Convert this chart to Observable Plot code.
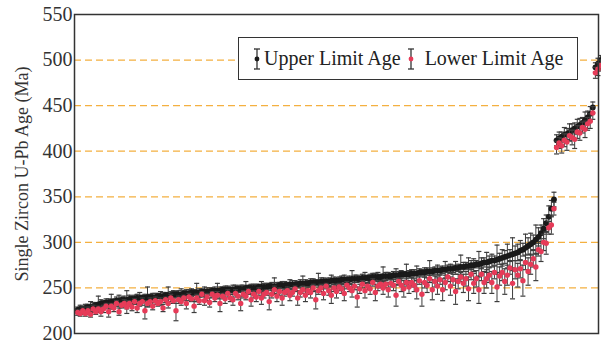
<!DOCTYPE html>
<html>
<head>
<meta charset="utf-8">
<script src="https://cdn.jsdelivr.net/npm/d3@7"></script>
<script src="https://cdn.jsdelivr.net/npm/@observablehq/plot@0.6"></script>
<style>
  html, body { margin: 0; padding: 0; background: #fff; }
  #wrap { position: relative; width: 601px; height: 345px; font-family: "Liberation Serif", "DejaVu Serif", serif; }
  #legend { position: absolute; left: 238px; top: 37px; width: 338px; height: 41px; border: 1.5px solid #333; background: #fff;
    display: flex; align-items: center; font-size: 20px; color: #222; white-space: nowrap; }
  #legend svg { display: block; }
  .lg-item { display: flex; align-items: center; }
</style>
</head>
<body>
<div id="wrap">
  <div id="chart"></div>
  <div id="legend"></div>
</div>
<script>
// Upper limit ages (black), sorted sample order
const upperAge = [
226,227,227,228,229,229,230,231,232,233,
233,234,234,235,235,236,236,237,237,237,
238,238,238,239,239,239,239,240,240,240,
240,241,241,241,242,242,242,243,243,243,
243,244,244,244,245,245,245,245,246,246,
246,246,247,247,247,247,248,248,248,248,
248,249,249,249,249,250,250,250,250,250,
251,251,251,251,252,252,252,252,253,253,
253,253,254,254,254,254,255,255,255,255,
256,256,256,256,257,257,257,257,258,258,
258,258,259,259,259,259,260,260,260,260,
261,261,261,261,262,262,262,262,263,263,
263,263,264,264,264,265,265,265,265,266,
266,266,267,267,267,268,268,268,269,269,
269,270,270,271,271,271,272,272,273,273,
274,274,275,275,276,276,277,278,278,279,
280,280,281,282,283,284,285,286,287,288,
289,291,292,294,296,298,300,303,306,310,
315,321,328,337,347,
412,414,416,418,419,421,423,425,427,429,431,434,437,441,448,
492,496,500
];
const upperErr = [
3,4,3,4,3,6,4,3,9,4,
3,4,4,8,3,4,6,3,4,10,
4,3,4,4,6,3,4,11,3,4,
4,3,5,4,3,9,4,4,3,4,
6,3,4,4,4,3,10,4,3,5,
4,4,3,4,8,4,3,4,4,3,
5,4,3,4,4,7,3,4,4,4,
3,6,4,4,3,4,9,4,3,4,
4,3,5,4,4,3,4,8,4,3,
4,4,3,10,4,4,3,4,6,4,
3,4,4,5,3,4,9,4,4,3,
4,6,3,4,4,4,5,3,10,4,
4,3,4,7,4,4,3,11,4,4,
4,8,4,3,5,4,12,4,4,6,
4,4,9,4,5,4,7,4,13,5,
4,9,5,7,4,14,6,5,11,6,
7,5,16,6,9,7,13,6,18,8,
9,11,7,15,9,12,8,16,10,9,
11,9,12,9,8,
6,7,5,8,6,9,7,6,8,7,6,9,7,8,6,
5,6,5
];
// Lower limit ages (red), same sample order
const lowerAge = [
223,222,225,222,225,221,227,224,227,224,
227,230,224,230,228,233,224,231,233,229,
233,229,235,228,233,235,225,233,235,230,
236,233,235,228,237,233,239,236,225,237,
235,239,233,240,238,230,239,236,243,236,
240,234,243,239,242,233,241,238,244,239,
237,244,241,233,243,241,246,237,243,240,
246,239,243,245,235,243,248,241,246,239,
245,247,242,245,249,239,245,248,242,247,
245,250,237,247,250,244,252,247,242,250,
246,251,249,244,253,250,247,252,240,249,
254,247,252,249,256,245,252,254,250,254,
248,255,253,242,257,253,249,256,251,256,
253,248,258,243,256,253,260,248,257,252,
259,248,256,262,252,259,246,257,262,255,
260,249,265,255,260,248,265,256,260,264,
256,267,251,263,267,257,264,272,255,270,
264,271,258,278,268,276,282,273,292,290,
300,299,316,319,337,
404,409,406,412,410,417,415,413,421,420,426,424,430,433,442,
486,490,494
];
const lowerErr = [
3,3,4,3,4,3,4,3,3,5,
4,3,6,3,4,3,4,3,4,7,
3,4,3,5,3,4,9,3,4,4,
4,3,4,4,3,5,4,3,11,4,
4,3,6,4,3,7,4,4,3,5,
4,5,3,4,4,9,3,5,4,4,
6,4,4,8,4,4,3,7,4,5,
4,7,4,3,9,4,4,6,4,8,
4,4,6,4,3,8,5,4,7,4,
6,4,10,4,4,7,3,5,9,4,
7,4,5,8,4,4,7,4,11,5,
4,8,4,6,4,9,5,4,7,4,
8,4,6,12,4,7,9,4,7,5,
7,10,4,13,6,8,4,11,6,9,
5,12,8,5,10,6,14,8,5,10,
8,13,6,11,9,15,7,12,10,8,
12,7,16,10,9,14,11,7,17,10,
13,10,17,8,15,11,9,15,7,11,
9,12,7,10,7,
7,6,8,7,9,6,8,10,7,8,6,9,7,8,7,
6,7,6
];
const yTicks = [200, 250, 300, 350, 400, 450, 500, 550];
const gridLines = [250, 300, 350, 400, 450, 500];
const yTitle = "Single Zircon U-Pb Age (Ma)";
const seriesNames = ["Upper Limit Age", "Lower Limit Age"];

const data = upperAge.map((u, i) => ({i, u, ue: upperErr[i], l: lowerAge[i], le: lowerErr[i]}));
const cap = {draw(ctx, size) { const r = Math.sqrt(size / Math.PI); ctx.moveTo(-r, 0); ctx.lineTo(r, 0); }};
const barColor = "#3c3c3c";
const redColor = "#e63b58";

const chart = Plot.plot({
  width: 601,
  height: 345,
  marginLeft: 74,
  marginRight: 3,
  marginTop: 14,
  marginBottom: 12,
  style: {fontFamily: "Liberation Serif, serif", fontSize: "20px", color: "#333", background: "transparent"},
  x: {domain: [-1.2, 201.2], axis: null},
  y: {domain: [200, 550]},
  marks: [
    Plot.ruleY(gridLines, {stroke: "#f4b040", strokeDasharray: "7,4", strokeWidth: 1.3}),
    Plot.ruleX(data, {x: "i", y1: d => d.u - d.ue, y2: d => d.u + d.ue, stroke: barColor, strokeWidth: 1}),
    Plot.dot(data, {x: "i", y: d => d.u + d.ue, symbol: cap, r: 2.5, stroke: barColor, fill: "none", strokeWidth: 1.2}),
    Plot.dot(data, {x: "i", y: d => d.u - d.ue, symbol: cap, r: 2.5, stroke: barColor, fill: "none", strokeWidth: 1.2}),
    Plot.dot(data, {x: "i", y: "u", r: 2.9, fill: "#1a1a1a"}),
    Plot.ruleX(data, {x: "i", y1: d => d.l - d.le, y2: d => d.l + d.le, stroke: barColor, strokeWidth: 1}),
    Plot.dot(data, {x: "i", y: d => d.l + d.le, symbol: cap, r: 2.5, stroke: barColor, fill: "none", strokeWidth: 1.2}),
    Plot.dot(data, {x: "i", y: d => d.l - d.le, symbol: cap, r: 2.5, stroke: barColor, fill: "none", strokeWidth: 1.2}),
    Plot.dot(data, {x: "i", y: "l", r: 2.7, fill: redColor}),
    Plot.frame({stroke: "#333", strokeWidth: 1.5}),
    Plot.axisY({ticks: yTicks, tickSize: 0, tickPadding: 2, label: null, fill: "#333"}),
    Plot.text([yTitle], {frameAnchor: "left", textAnchor: "middle", rotate: -90, dx: -52, fontSize: 18, fill: "#333"})
  ]
});
document.getElementById("chart").appendChild(chart);

function legendSymbol(color) {
  return `<svg width="12" height="26" viewBox="0 0 12 26">
    <line x1="6" y1="3" x2="6" y2="23" stroke="#333" stroke-width="1.3"/>
    <line x1="3" y1="3" x2="9" y2="3" stroke="#333" stroke-width="1.3"/>
    <line x1="3" y1="23" x2="9" y2="23" stroke="#333" stroke-width="1.3"/>
    <circle cx="6" cy="13" r="2.4" fill="${color}"/></svg>`;
}
document.getElementById("legend").innerHTML =
  `<div class="lg-item" style="margin-left:12px">${legendSymbol("#1a1a1a")}<span style="margin-left:1px">${seriesNames[0]}</span></div>` +
  `<div class="lg-item" style="margin-left:4px">${legendSymbol(redColor)}<span style="margin-left:8px">${seriesNames[1]}</span></div>`;
</script>
</body>
</html>
